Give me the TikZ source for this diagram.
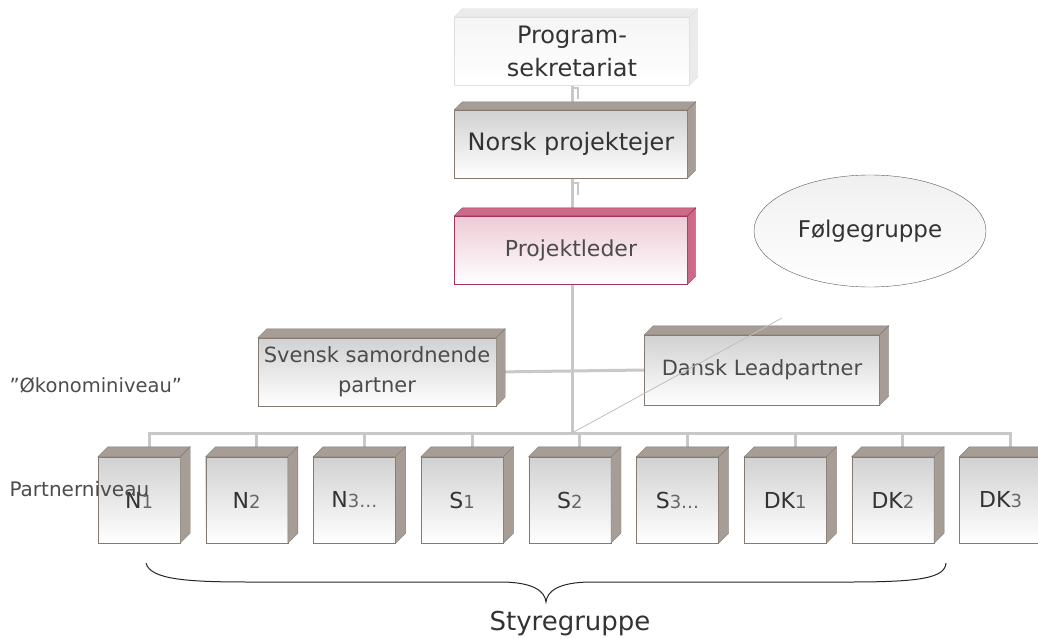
\documentclass[tikz,border=0pt]{standalone}
\usepackage{fontspec}
\setmainfont{DejaVu Sans}
\usetikzlibrary{shapes.geometric,backgrounds}
\definecolor{linegray}{HTML}{C8C8C8}
\definecolor{boxedge}{HTML}{847A72}
\definecolor{boxface}{HTML}{A69E96}
\definecolor{pinkedge}{HTML}{A3345F}
\definecolor{pinkface}{HTML}{CC6A88}
\definecolor{textgray}{HTML}{333333}
\newcommand{\fs}[1]{\fontsize{#1}{#1}\selectfont}
\newcommand{\fsl}[2]{\fontsize{#1}{#2}\selectfont}
% top and side faces of a box
\newcommand{\boxfaces}[4]{%
  \filldraw[fill=#2,draw=#3] (#1.north west) -- ++(#4,-#4) -- ([xshift=#4pt,yshift=-#4pt]#1.north east) -- (#1.north east) -- cycle;
  \filldraw[fill=#2,draw=#3] (#1.north east) -- ++(#4,-#4) -- ([xshift=#4pt,yshift=-#4pt]#1.south east) -- (#1.south east) -- cycle;}
\tikzset{
  cube/.style={draw=boxedge, top color=black!18, bottom color=white, inner sep=1pt, text=textgray, align=center},
  pcube/.style={cube, minimum width=82pt, minimum height=86pt},
  bar/.style={draw=linegray, line width=3pt},
  thin text/.style={text=black!70},
}
\begin{document}
\begin{tikzpicture}[x=1pt,y=1pt,yscale=-1]
\useasboundingbox (0,0) rectangle (1038,639);
%Top boxes
\node[cube, draw=black!12, top color=black!4, minimum width=235pt, minimum height=68pt, font=\fsl{24}{33}] (prog) at (572,51) {Program-\\sekretariat};
\boxfaces{prog}{black!8}{black!12}{8}
\node[cube, minimum width=233pt, minimum height=68pt, font=\fs{24}] (norsk) at (571,144) {Norsk projektejer};
\boxfaces{norsk}{boxface}{boxedge}{8}
\node[cube, thin text, draw=pinkedge, top color=pinkface!35, minimum width=233pt, minimum height=68pt, font=\fs{22}] (leder) at (571,250) {Projektleder};
\boxfaces{leder}{pinkface}{pinkedge}{8}
%Ellipse
\node[ellipse, draw=black!65, top color=black!6, bottom color=white, minimum width=232pt, minimum height=112pt, font=\fs{23}, text=textgray] (folge) at (870,231) {Følgegruppe};
%Economy level
\node[cube, thin text, minimum width=238pt, minimum height=68pt, font=\fsl{21}{30}] (svensk) at (377,372) {Svensk samordnende\\partner};
\boxfaces{svensk}{boxface}{boxedge}{9}
\node[cube, thin text, minimum width=235pt, minimum height=70pt, font=\fs{21}] (dansk) at (762,370) {Dansk Leadpartner};
\boxfaces{dansk}{boxface}{boxedge}{9}
\node[anchor=west, font=\fs{19.5}, text=black!70] (okon) at (6,385) {”Økonominiveau”};
%Partner level
\foreach \ltr/\num [count=\i] in {N/1,N/2,N/{3\ldots},S/1,S/2,S/{3\ldots},DK/1,DK/2,DK/3}{
  \node[pcube] (p\i) at ({139+(\i-1)*107.7},500) {{\fs{22}\ltr}{\fs{18}\color{black!60}\num}};
  \boxfaces{p\i}{boxface}{boxedge}{10}
}
\node[anchor=west, font=\fs{20}, text=black!70] (pniv) at (6,489) {Partnerniveau};
\coordinate (bus) at (572,433);
%Connectors
\begin{scope}[on background layer]
\draw[bar] (prog.south) -- (bus);
\draw[bar] (svensk.east) -- (dansk.west);
\draw[bar] ([xshift=10pt]p1.north) |- (bus) -| ([xshift=10pt]p9.north);
\foreach \i in {2,...,8}{
  \draw[bar] ([xshift=10pt]p\i.north) -- ([xshift=10pt]p\i.north |- bus);
}
\draw[draw=linegray, line width=1.5pt] (572,88) -- (578,88) -- (578,99);
\draw[draw=linegray, line width=1.5pt] (572,183) -- (578,183) -- (578,195);
\end{scope}
\draw[draw=black!25, line width=0.8pt] (bus) -- (782,318);
%Brace
\draw[black!85, line width=1pt] (146,563) .. controls (150,580) and (190,582) .. (250,582) -- (500,582) .. controls (535,582) and (545,592) .. (546,602)
  .. controls (547,592) and (557,582) .. (592,582) -- (850,582) .. controls (920,582) and (945,578) .. (946,563);
\node[font=\fs{26}, text=textgray] (styre) at (570,624) {Styregruppe};
\end{tikzpicture}
\end{document}
